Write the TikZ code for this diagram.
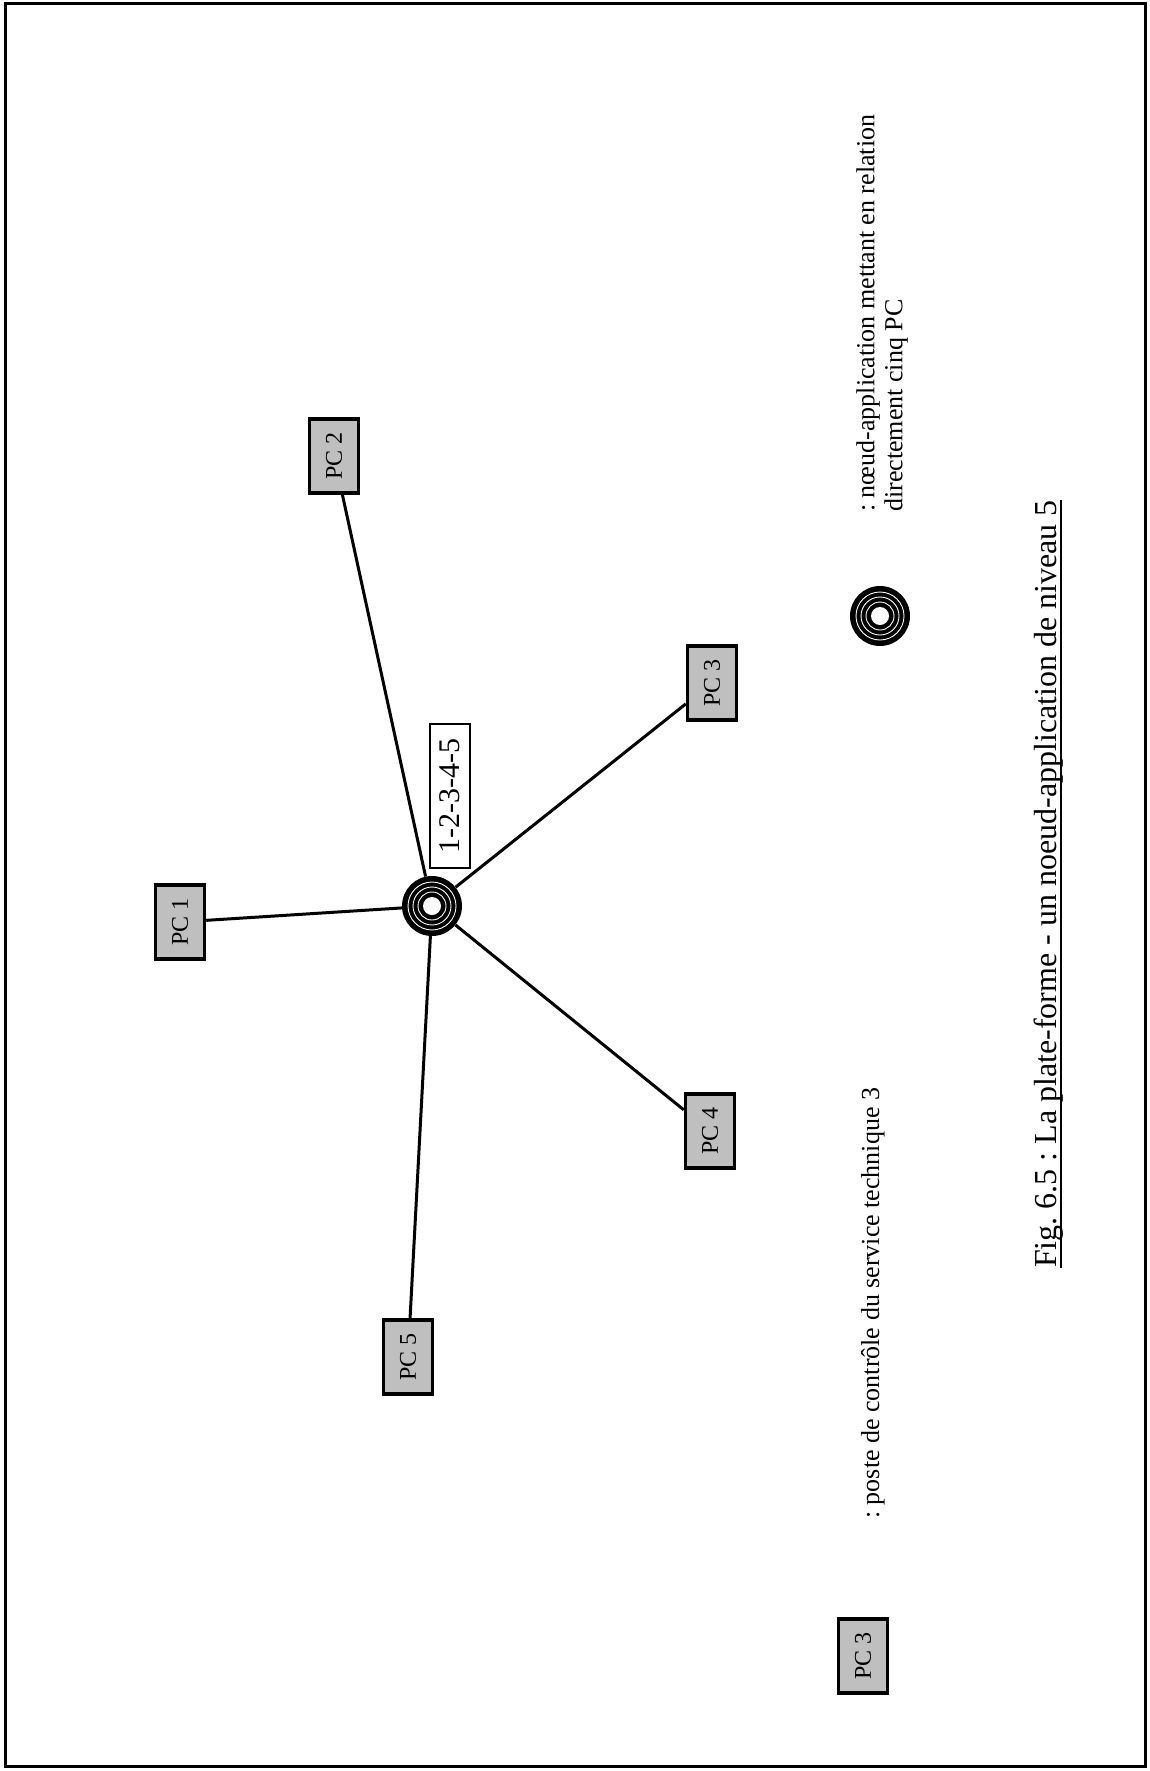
\documentclass[tikz,border=0pt]{standalone}
\usepackage{fontspec}
\setmainfont{Liberation Serif}
\begin{document}
\frenchspacing
\begin{tikzpicture}[x=1pt,y=-1pt,
  conn/.style={line width=3pt},
  pcbox/.style={draw=black, line width=3.5pt, fill=gray!50, rotate=90,
    minimum width=74pt, minimum height=49pt, inner sep=0pt,
    font=\fontsize{24}{26}\selectfont},
  hubnode/.style={circle, fill=black, minimum size=60pt, inner sep=0pt},
  ringline/.style={draw=white, line width=0.9pt},
  legtext/.style={rotate=90, inner sep=0pt, align=left,
    font=\fontsize{26}{28}\selectfont},
  labelbox/.style={draw=black, line width=2.5pt, fill=white, rotate=90,
    minimum width=144pt, minimum height=40pt, inner sep=0pt,
    font=\fontsize{30}{34}\selectfont},
  captext/.style={rotate=90, inner sep=0pt, font=\fontsize{32}{36}\selectfont}
]
\useasboundingbox (0,0) rectangle (1150,1771);
\draw[line width=3pt] (5,4) rectangle (1145,1766);

% main hub and PCs
\node[hubnode] (hub) at (432,906) {};
\node[pcbox] (pc1) at (180,922) {PC 1};
\node[pcbox] (pc2) at (334,456) {PC 2};
\node[pcbox] (pc3) at (712,683) {PC 3};
\node[pcbox] (pc4) at (710,1131) {PC 4};
\node[pcbox] (pc5) at (408,1357) {PC 5};
\node[labelbox] (lbl) at (450,796) {1-2-3-4-5};

\foreach \n in {pc1,pc2,pc3,pc4,pc5}
  \draw[conn] (hub) -- (\n);

\foreach \r in {24,19,14}
  \draw[ringline] (hub) circle (\r pt);
\fill[white] (hub) circle (9pt);

% legend
\node[hubnode] (lhub) at (880,616) {};
\foreach \r in {24,19,14}
  \draw[ringline] (lhub) circle (\r pt);
\fill[white] (lhub) circle (9pt);
\node[legtext, anchor=west] (leg1) at (882,512)
  {: nœud-application mettant en relation\\directement cinq PC};

\node[pcbox] (lpc) at (863,1656) {PC 3};
\node[legtext, anchor=base west] (leg2) at (879,1519)
  {: poste de contrôle du service technique 3};

% caption
\node[captext, anchor=base] (cap) at (1056,884)
  {Fig. 6.5 : La plate-forme - un noeud-application de niveau 5};
\draw[line width=2pt] ([xshift=5pt]cap.base west) -- ([xshift=5pt]cap.base east);
\end{tikzpicture}
\end{document}
